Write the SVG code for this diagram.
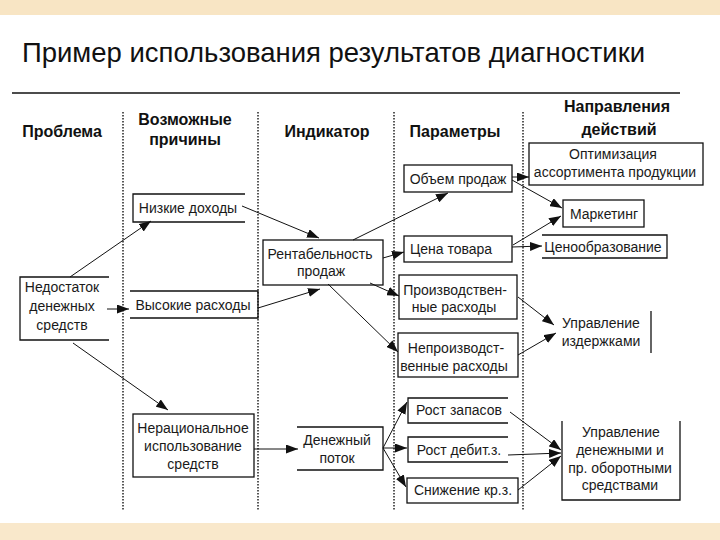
<svg xmlns="http://www.w3.org/2000/svg" width="720" height="540" viewBox="0 0 720 540">
<style>
.t{font-family:"Liberation Sans",Arial,sans-serif;font-size:14px;text-anchor:middle;fill:#1a1a1a}
.h{font-family:"Liberation Sans",Arial,sans-serif;font-size:16px;font-weight:bold;text-anchor:middle;fill:#111}
.b{fill:none;stroke:#111;stroke-width:1.3}
.dot{stroke:#222;stroke-width:1.5;stroke-dasharray:1.5 1.5;fill:none}
.c{stroke:#111;stroke-width:1;fill:none;marker-end:url(#ah)}
</style>
<defs>
<marker id="ah" markerUnits="userSpaceOnUse" markerWidth="13" markerHeight="9" refX="12" refY="4.5" orient="auto">
<path d="M0,0 L12,4.5 L0,9 Z" fill="#111"/>
</marker>
</defs>
<rect x="0" y="0" width="720" height="540" fill="#ffffff"/>
<rect x="0" y="0" width="720" height="15" fill="#f8e5c4"/>
<rect x="0" y="523" width="720" height="17" fill="#f9e8cb"/>
<text x="22" y="62" textLength="623" lengthAdjust="spacingAndGlyphs" style="font-family:'Liberation Sans',Arial,sans-serif;font-size:28px;fill:#111">Пример использования результатов диагностики</text>
<line x1="12" y1="93" x2="680" y2="93" stroke="#111" stroke-width="1.5"/>
<g id="columns">
<line class="dot" x1="123" y1="112" x2="123" y2="510"/>
<line class="dot" x1="258" y1="112" x2="258" y2="510"/>
<line class="dot" x1="394" y1="112" x2="394" y2="510"/>
<line class="dot" x1="523" y1="112" x2="523" y2="510"/>
</g>
<g id="headers">
<text class="h" x="62" y="137">Проблема</text>
<text class="h" x="185" y="125">Возможные</text>
<text class="h" x="185" y="145">причины</text>
<text class="h" x="327" y="137">Индикатор</text>
<text class="h" x="455" y="137">Параметры</text>
<text class="h" x="617" y="112">Направления</text>
<text class="h" x="619" y="135">действий</text>
</g>
<g id="connectors">
<line class="c" x1="70" y1="277" x2="151" y2="221"/>
<line class="c" x1="107" y1="309" x2="129" y2="309"/>
<line class="c" x1="73" y1="343" x2="168" y2="410"/>
<line class="c" x1="242" y1="206" x2="319" y2="238"/>
<line class="c" x1="258" y1="308" x2="320" y2="289"/>
<line class="c" x1="353" y1="240" x2="448" y2="193"/>
<line class="c" x1="383" y1="258" x2="404" y2="252"/>
<line class="c" x1="370" y1="283" x2="399" y2="296"/>
<line class="c" x1="328" y1="284" x2="398" y2="352"/>
<line class="c" x1="254" y1="449" x2="298" y2="449"/>
<line class="c" x1="383" y1="448" x2="407" y2="402"/>
<line class="c" x1="383" y1="448" x2="407" y2="448"/>
<line class="c" x1="383" y1="448" x2="406" y2="487"/>
<line class="c" x1="512" y1="177" x2="529" y2="177"/>
<line class="c" x1="512" y1="180" x2="562" y2="208"/>
<line class="c" x1="513" y1="245" x2="561" y2="216"/>
<line class="c" x1="512" y1="247" x2="542" y2="246"/>
<line class="c" x1="518" y1="297" x2="554" y2="325"/>
<line class="c" x1="518" y1="355" x2="556" y2="333"/>
<line class="c" x1="510" y1="412" x2="561" y2="450"/>
<line class="c" x1="508" y1="455" x2="561" y2="453"/>
<line class="c" x1="518" y1="490" x2="561" y2="456"/>
</g>
<g id="n-nedostatok">
<path class="b" d="M109,277 H20 V340 H109"/>
<text class="t" x="62" y="292">Недостаток</text>
<text class="t" x="62" y="311">денежных</text>
<text class="t" x="62" y="330">средств</text>
</g>
<g id="n-nizkie">
<path class="b" d="M245,194 H133 V222 H245"/>
<text class="t" x="188" y="213">Низкие  доходы</text>
</g>
<g id="n-vysokie">
<path class="b" d="M130,291 H258 V318 H130"/>
<text class="t" x="193" y="310">Высокие  расходы</text>
</g>
<g id="n-neracional">
<rect class="b" x="133" y="414" width="121" height="63"/>
<text class="t" x="193" y="433">Нерациональное</text>
<text class="t" x="193" y="451">использование</text>
<text class="t" x="193" y="469">средств</text>
</g>
<g id="n-rentab">
<rect class="b" x="263" y="240" width="120" height="45"/>
<text class="t" x="320" y="259">Рентабельность</text>
<text class="t" x="321" y="276">продаж</text>
</g>
<g id="n-denpotok">
<path class="b" d="M297,427 H383 V470 H297"/>
<text class="t" x="337" y="445">Денежный</text>
<text class="t" x="337" y="463">поток</text>
</g>
<g id="n-obem">
<rect class="b" x="404" y="165" width="108" height="27"/>
<text class="t" x="458" y="184">Объем  продаж</text>
</g>
<g id="n-cena">
<rect class="b" x="404" y="236" width="108" height="26"/>
<text class="t" x="451" y="254">Цена товара</text>
</g>
<g id="n-proizv">
<rect class="b" x="399" y="275" width="118" height="44"/>
<text class="t" x="455" y="295">Производствен-</text>
<text class="t" x="454" y="312">ные  расходы</text>
</g>
<g id="n-neproizv">
<rect class="b" x="398" y="333" width="120" height="44"/>
<text class="t" x="456" y="353">Непроизводст-</text>
<text class="t" x="454" y="371">венные  расходы</text>
</g>
<g id="n-zapasy">
<path class="b" d="M508,398 H408 V423 H508"/>
<text class="t" x="459" y="415">Рост  запасов</text>
</g>
<g id="n-debit">
<path class="b" d="M508,437 H408 V462 H508"/>
<text class="t" x="459" y="455">Рост  дебит.з.</text>
</g>
<g id="n-snizh">
<rect class="b" x="407" y="478" width="111" height="25"/>
<text class="t" x="463" y="495">Снижение  кр.з.</text>
</g>
<g id="n-optim">
<rect class="b" x="529" y="143" width="174" height="42"/>
<text class="t" x="613" y="159">Оптимизация</text>
<text class="t" x="615" y="177">ассортимента   продукции</text>
</g>
<g id="n-marketing">
<rect class="b" x="563" y="200" width="81" height="27"/>
<text class="t" x="604" y="219">Маркетинг</text>
</g>
<g id="n-cenoobr">
<path class="b" d="M542,235 H667 V258 H542"/>
<text class="t" x="603" y="252">Ценообразование</text>
</g>
<g id="n-izderzhki">
<line class="b" x1="651" y1="311" x2="651" y2="353"/>
<text class="t" x="601" y="328">Управление</text>
<text class="t" x="601" y="346">издержками</text>
</g>
<g id="n-denezhnye">
<path class="b" d="M562,421 V500 H680 V421"/>
<text class="t" x="621" y="437">Управление</text>
<text class="t" x="620" y="455">денежными и</text>
<text class="t" x="620" y="473">пр.  оборотными</text>
<text class="t" x="620" y="490">средствами</text>
</g>
</svg>
